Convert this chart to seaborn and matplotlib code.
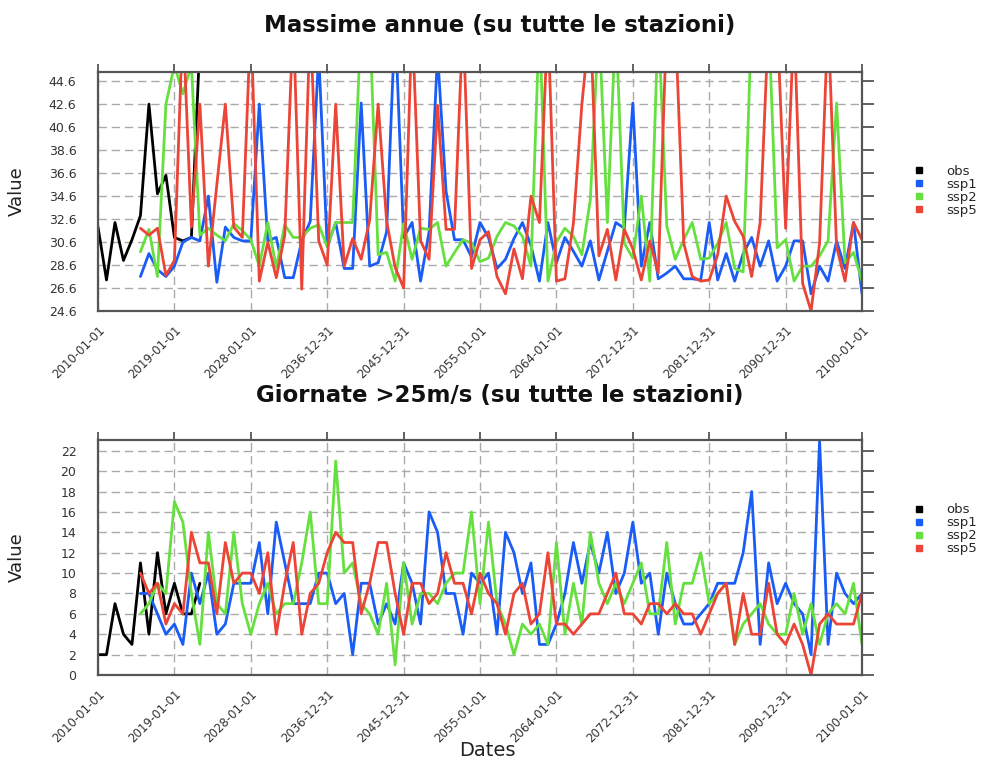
import numpy as np
import pandas as pd
import seaborn as sns
import matplotlib.pyplot as plt
from matplotlib.lines import Line2D

# ---- data ----
years_obs = list(range(2010, 2023))
years_ssp = list(range(2015, 2101))

max_obs = [31.9, 27.3, 32.3, 29.0, 30.8, 32.9, 42.6, 34.8, 36.4, 31.0, 30.7, 31.0, 48.0]
max_ssp1 = [27.6, 29.6, 28.2, 27.6, 28.5, 30.6, 31.0, 30.7, 34.6, 27.1,
            31.9, 31.0, 30.7, 30.7, 42.6, 30.7, 31.0, 27.5, 27.5, 30.7,
            32.4, 47.0, 30.2, 32.3, 28.3, 28.3, 42.7, 28.5, 28.8, 31.5,
            50.0, 31.0, 32.3, 27.2, 31.5, 47.0, 35.0, 30.8, 30.8, 29.3,
            32.3, 31.0, 28.3, 29.1, 30.9, 32.3, 30.3, 27.2, 32.3, 28.8,
            31.0, 29.8, 28.5, 30.7, 27.3, 29.8, 32.3, 31.8, 42.7, 28.5,
            32.3, 27.4, 27.9, 28.5, 27.4, 27.4, 27.3, 32.3, 27.3, 29.6,
            27.2, 29.6, 31.0, 28.5, 30.7, 27.2, 28.5, 30.7, 30.7, 26.1,
            28.5, 27.2, 30.7, 28.3, 32.3, 26.1]
max_ssp2 = [29.75, 31.7, 27.6, 42.6, 46.0, 43.5, 46.0, 31.2, 31.8, 31.2,
            30.7, 32.2, 31.6, 30.8, 28.5, 32.3, 28.4, 32.1, 31.0, 31.0,
            31.8, 32.1, 30.2, 32.3, 32.3, 32.3, 50.0, 50.0, 29.5, 29.7,
            27.2, 32.2, 29.1, 31.8, 31.7, 32.3, 28.5, 29.7, 30.8, 30.5,
            28.9, 29.2, 31.1, 32.3, 32.0, 31.1, 28.5, 50.0, 27.2, 30.6,
            31.8, 31.1, 29.5, 34.3, 50.0, 32.3, 50.0, 30.5, 29.2, 34.6,
            27.2, 50.0, 32.0, 29.1, 30.8, 32.3, 29.1, 29.2, 30.5, 32.3,
            28.3, 28.0, 50.0, 50.0, 50.0, 30.1, 30.8, 27.2, 28.5, 28.5,
            29.4, 30.7, 42.7, 28.8, 29.7, 27.2]
max_ssp5 = [31.8, 31.2, 31.8, 27.7, 29.0, 50.0, 31.9, 42.6, 28.5, 35.6,
            42.6, 31.9, 31.0, 50.0, 27.2, 30.6, 27.5, 31.2, 50.0, 26.5,
            50.0, 30.7, 28.6, 42.6, 28.5, 30.9, 29.1, 32.5, 42.6, 32.4,
            28.4, 26.6, 50.0, 30.7, 29.1, 42.5, 31.7, 31.7, 50.0, 28.3,
            30.8, 31.5, 27.6, 26.1, 30.0, 27.4, 34.6, 32.3, 50.0, 27.2,
            27.4, 32.2, 42.6, 50.0, 29.4, 31.7, 27.3, 31.7, 30.0, 27.3,
            30.7, 27.9, 50.0, 50.0, 30.5, 27.6, 27.2, 27.3, 29.5, 34.6,
            32.4, 31.1, 27.6, 32.3, 50.0, 50.0, 31.8, 50.0, 27.0, 24.6,
            30.5, 50.0, 30.2, 27.2, 32.3, 30.8]

days_obs = [2, 2, 7, 4, 3, 11, 4, 12, 6, 9, 6, 6, 9]
days_ssp1 = [8, 8, 6, 4, 5, 3, 10, 7, 10, 4,
             5, 9, 9, 9, 13, 6, 15, 11, 7, 7,
             7, 10, 10, 7, 8, 2, 9, 9, 5, 7,
             5, 11, 9, 5, 16, 14, 8, 8, 4, 10,
             9, 10, 4, 14, 12, 8, 11, 3, 3, 5,
             8, 13, 9, 13, 10, 14, 8, 10, 15, 9,
             10, 4, 10, 7, 5, 5, 6, 7, 9, 9,
             9, 12, 18, 3, 11, 7, 9, 7, 6, 2,
             23, 3, 10, 8, 7, 8]
days_ssp2 = [6, 7, 9, 8, 17, 15, 8, 3, 14, 7,
             6, 14, 7, 4, 7, 9, 6, 7, 7, 11,
             16, 7, 7, 21, 10, 11, 7, 6, 4, 9,
             1, 11, 5, 8, 8, 7, 9, 10, 10, 16,
             7, 15, 7, 5, 2, 5, 4, 5, 3, 13,
             4, 9, 5, 14, 9, 7, 9, 7, 9, 11,
             6, 6, 13, 5, 9, 9, 12, 7, 8, 9,
             3, 5, 6, 7, 5, 4, 4, 8, 4, 7,
             3, 6, 7, 6, 9, 3]
days_ssp5 = [10, 8, 9, 5, 7, 6, 14, 11, 11, 6,
             13, 9, 10, 10, 8, 12, 4, 9, 13, 4,
             8, 9, 12, 14, 13, 13, 6, 9, 13, 13,
             8, 4, 9, 9, 7, 8, 12, 9, 9, 6,
             10, 8, 7, 4, 8, 9, 5, 6, 12, 5,
             5, 4, 5, 6, 6, 8, 10, 6, 6, 5,
             7, 7, 6, 7, 6, 6, 4, 6, 8, 9,
             3, 8, 4, 4, 9, 4, 3, 5, 3, 0,
             5, 6, 5, 5, 5, 8]

tick_labels = ["2010-01-01", "2019-01-01", "2028-01-01", "2036-12-31", "2045-12-31",
               "2055-01-01", "2064-01-01", "2072-12-31", "2081-12-31", "2090-12-31",
               "2100-01-01"]
series_names = ["obs", "ssp1", "ssp2", "ssp5"]
colors = {"obs": "#000000", "ssp1": "#1a5cf6", "ssp2": "#66e03f", "ssp5": "#ec4436"}


def to_long(obs, s1, s2, s5):
    parts = []
    for name, yrs, vals in [("obs", years_obs, obs), ("ssp1", years_ssp, s1),
                            ("ssp2", years_ssp, s2), ("ssp5", years_ssp, s5)]:
        parts.append(pd.DataFrame({
            "date": pd.to_datetime([f"{y}-01-01" for y in yrs]),
            "value": vals,
            "series": name,
        }))
    return pd.concat(parts, ignore_index=True)


df_max = to_long(max_obs, max_ssp1, max_ssp2, max_ssp5)
df_days = to_long(days_obs, days_ssp1, days_ssp2, days_ssp5)

sns.set_style("white")
plt.rcParams["font.family"] = ["DejaVu Sans"]

fig = plt.figure(figsize=(9.89, 7.6), dpi=100)
ax1 = fig.add_axes([0.0991, 0.5908, 0.7725, 0.3145])
ax2 = fig.add_axes([0.0991, 0.1118, 0.7725, 0.3092])

panels = [
    (ax1, df_max, (24.6, 45.4), np.arange(24.6, 45.0, 2.0), "{:.1f}",
     "Massime annue (su tutte le stazioni)", 0.967, 0.783),
    (ax2, df_days, (0, 23.05), np.arange(0, 23, 2), "{:.0f}",
     "Giornate >25m/s (su tutte le stazioni)", 0.480, 0.338),
]

for ax, df, ylim, yticks, fmt, title, ty, ly in panels:
    sns.lineplot(data=df, x="date", y="value", hue="series", palette=colors,
                 hue_order=series_names, linewidth=2.0, estimator=None,
                 legend=False, ax=ax)
    ax.set_xlim(pd.Timestamp("2010-01-01"), pd.Timestamp("2100-01-01"))
    ax.set_ylim(*ylim)
    ax.set_yticks(yticks)
    ax.set_yticklabels([fmt.format(v) for v in yticks])
    ax.set_xticks(pd.to_datetime(tick_labels))
    ax.set_xticklabels(tick_labels, rotation=45, ha="right", rotation_mode="anchor")
    ax.grid(True, linestyle=(0, (6, 3.5)), color="#aaaaaa", linewidth=1.0)
    ax.set_axisbelow(True)
    ax.tick_params(axis="both", direction="out", width=1.3, color="#555555",
                   top=True, right=True, labelcolor="#333333")
    ax.tick_params(axis="y", labelsize=9, length=8.5, pad=7)
    ax.tick_params(axis="x", labelsize=8.5, length=6, pad=3)
    for s in ax.spines.values():
        s.set_color("#555555")
        s.set_linewidth(1.6)
    ax.set_xlabel("")
    ax.set_ylabel("Value", fontsize=13, color="#222222")
    ax.yaxis.set_label_coords(-0.095, 0.5)
    fig.text(0.505, ty, title, ha="center", va="center", fontsize=16.5,
             fontweight="bold", color="#111111")
    handles = [Line2D([], [], linestyle="none", marker="s", markersize=4,
                      color=colors[n]) for n in series_names]
    fig.legend(handles, series_names, loc="upper left", bbox_to_anchor=(0.923, ly),
               frameon=False, fontsize=9.5, handlelength=1.0, handletextpad=1.5,
               labelspacing=0.0, borderpad=0, borderaxespad=0)

fig.text(0.493, 1 - 750 / 760, "Dates", ha="center", va="center", fontsize=14,
         color="#222222")

fig.savefig("out.png", dpi=100)
